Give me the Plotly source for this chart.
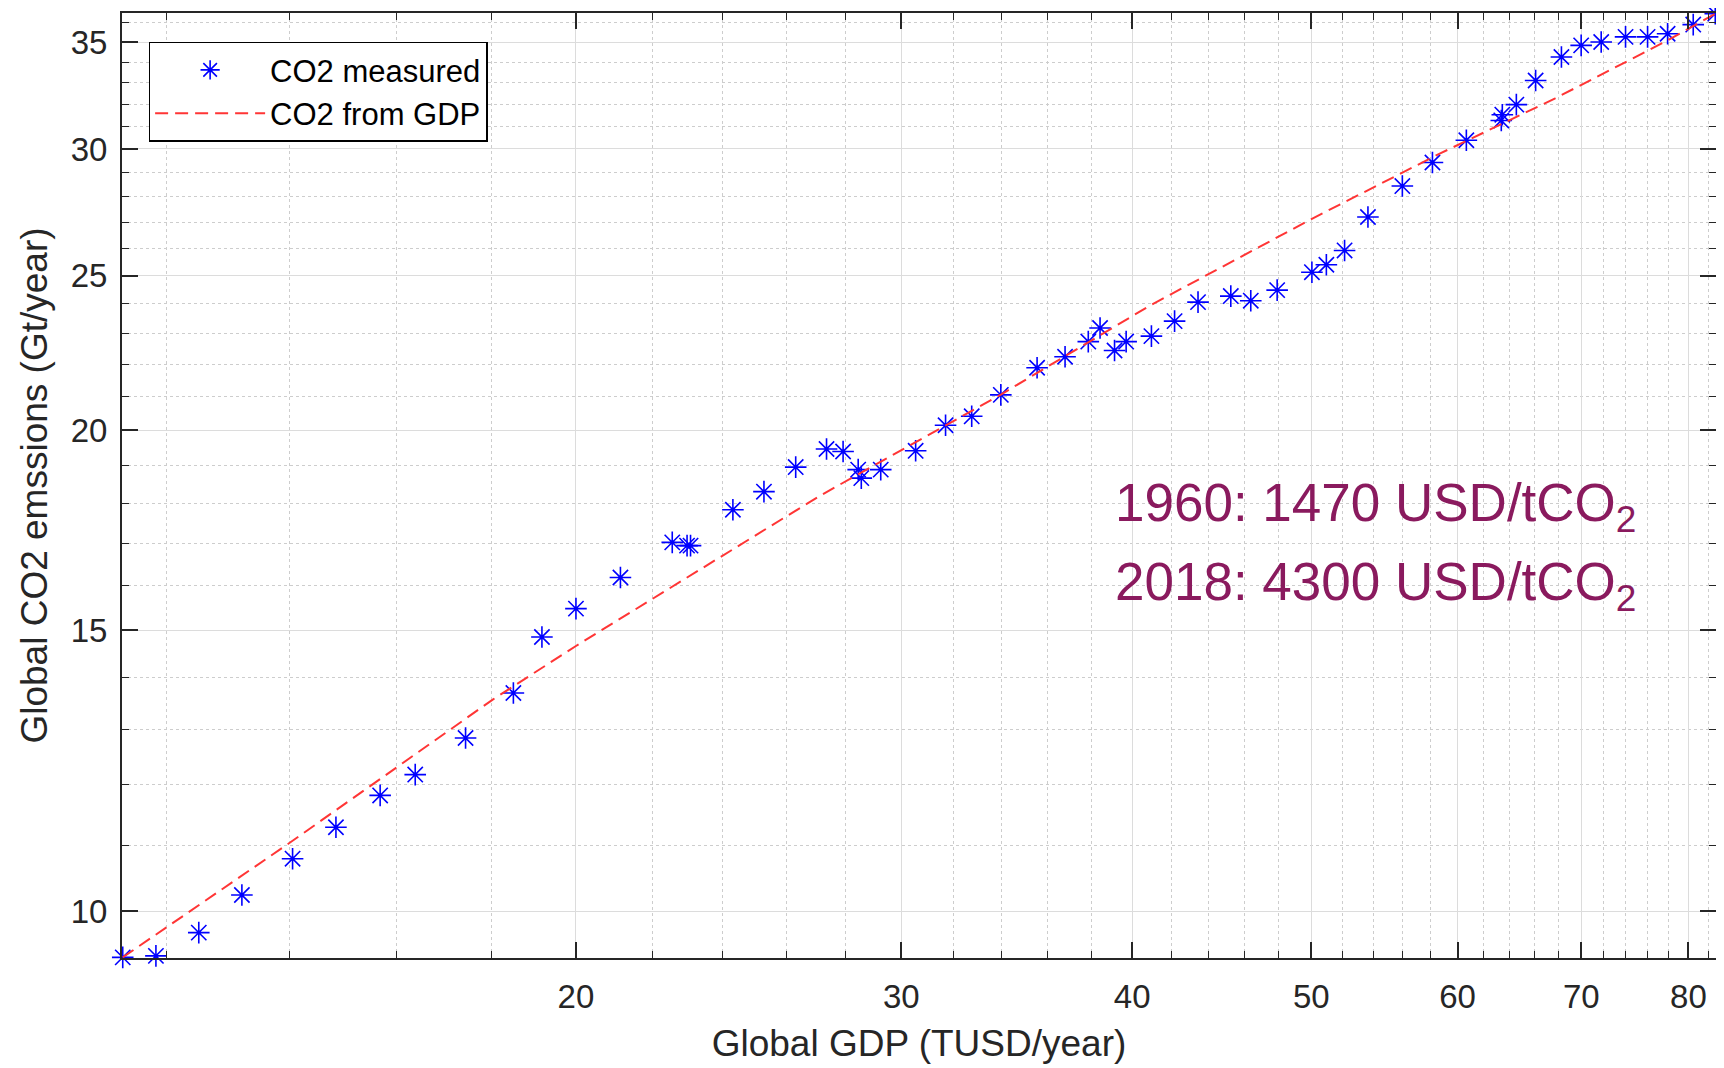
import numpy as np
import plotly.graph_objects as go

gdp = [11.37, 11.85, 12.50, 13.19, 14.05, 14.83, 15.67, 16.37, 17.43, 18.50,
       19.17, 20.00, 21.14, 22.55, 22.97, 23.07, 24.32, 25.28, 26.30, 27.33,
       27.90, 28.43, 28.54, 29.24, 30.54, 31.70, 32.75, 33.96, 35.53, 36.79,
       37.87, 38.43, 39.13, 39.70, 40.97, 42.17, 43.42, 45.23, 46.37, 47.92,
       50.04, 50.95, 52.12, 53.66, 56.01, 58.15, 60.66, 63.36, 63.44, 64.56,
       66.13, 68.29, 69.99, 71.76, 73.97, 76.03, 77.95, 80.48, 82.72]
co2 = [9.36, 9.38, 9.70, 10.24, 10.79, 11.29, 11.82, 12.18, 12.84, 13.70,
       14.85, 15.47, 16.18, 17.02, 16.94, 16.94, 17.84, 18.31, 18.97, 19.47,
       19.40, 18.90, 18.67, 18.90, 19.42, 20.15, 20.41, 21.05, 21.89, 22.24,
       22.73, 23.18, 22.44, 22.73, 22.91, 23.41, 24.06, 24.27, 24.11, 24.48,
       25.12, 25.39, 25.92, 27.20, 28.44, 29.42, 30.38, 31.26, 31.52, 31.98,
       33.11, 34.25, 34.83, 35.00, 35.26, 35.26, 35.42, 35.89, 36.46]

# Model curve
fit_gdp = [11.37, 14.0, 18.03, 20.0, 27.1, 33.96, 40.89, 50.04, 58.68, 67.72, 77.95, 82.72]
fit_co2 = [9.36, 11.04, 13.57, 14.66, 18.2, 21.06, 23.94, 27.13, 29.80, 32.26, 35.08, 36.46]

x_ticks = [20, 30, 40, 50, 60, 70, 80]
y_ticks = [10, 15, 20, 25, 30, 35]
x_minor = [v for v in range(12, 83, 2) if v not in x_ticks]
y_minor = [v for v in range(10, 37) if v not in y_ticks]

label_1960 = "1960: 1470 USD/tCO<sub>2</sub>"
label_2018 = "2018: 4300 USD/tCO<sub>2</sub>"

FONT = "Liberation Sans, Arial, sans-serif"
AX = "#262626"

fig = go.Figure()
fig.add_trace(go.Scatter(
    x=gdp, y=co2, mode="markers", name="CO2 measured",
    marker=dict(symbol="asterisk-open", size=18, color="#0000ff",
                line=dict(color="#0000ff", width=1.6)),
    cliponaxis=False,
))
fig.add_trace(go.Scatter(
    x=fit_gdp, y=fit_co2, mode="lines", name="CO2 from GDP",
    line=dict(color="#ff3535", width=2, dash="13px,7px"),
))

axis_common = dict(
    type="log", showline=True, linecolor=AX, linewidth=2, mirror="ticks",
    ticks="inside", ticklen=16, tickwidth=1.5, tickcolor=AX,
    showgrid=True, gridcolor="#dcdcdc", gridwidth=1.3, zeroline=False,
    tickfont=dict(family=FONT, size=33, color=AX),
)

pad = 0.0004  # tiny pad so the end points are not culled at the range edges
fig.update_xaxes(
    **axis_common,
    range=[np.log10(min(gdp)) - pad, np.log10(max(gdp)) + pad],
    tickmode="array", tickvals=x_ticks, ticktext=[str(v) for v in x_ticks],
    minor=dict(tickmode="array", tickvals=x_minor, ticks="inside", ticklen=7,
               tickcolor=AX, tickwidth=1.2, showgrid=True, gridcolor="#cdcdcd",
               griddash="dot", gridwidth=1.2),
    title=dict(text="Global GDP (TUSD/year)", font=dict(family=FONT, size=37, color=AX),
               standoff=17),
    ticklabelstandoff=8,
)
fig.update_yaxes(
    **axis_common,
    range=[np.log10(min(co2)) - pad, np.log10(max(co2)) + pad],
    tickmode="array", tickvals=y_ticks, ticktext=[str(v) for v in y_ticks],
    minor=dict(tickmode="array", tickvals=y_minor, ticks="inside", ticklen=7,
               tickcolor=AX, tickwidth=1.2, showgrid=True, gridcolor="#cdcdcd",
               griddash="dot", gridwidth=1.2),
    title=dict(text="Global CO2 emssions (Gt/year)", font=dict(family=FONT, size=37, color=AX),
               standoff=12),
    ticklabelstandoff=6,
)

fig.add_annotation(text=label_1960, xref="paper", yref="paper", x=0.622, y=0.478,
                   xanchor="left", yanchor="middle", showarrow=False,
                   font=dict(family=FONT, size=53, color="#8a1a5e"))
fig.add_annotation(text=label_2018, xref="paper", yref="paper", x=0.622, y=0.394,
                   xanchor="left", yanchor="middle", showarrow=False,
                   font=dict(family=FONT, size=53, color="#8a1a5e"))

# page body has an 8px margin, so the figure is sized/placed to land the plot
# area where the reference has it
fig.update_layout(
    width=1716, height=1060,
    margin=dict(l=114, r=8, t=5, b=110, autoexpand=False),
    paper_bgcolor="white", plot_bgcolor="white",
    showlegend=True,
    legend=dict(x=0.0167, y=0.9696, xanchor="left", yanchor="top",
                bgcolor="white", bordercolor="#000000", borderwidth=1.5,
                font=dict(family=FONT, size=31, color="#000000"),
                itemwidth=110, tracegroupgap=0),
)

fig.write_html("out.html")
